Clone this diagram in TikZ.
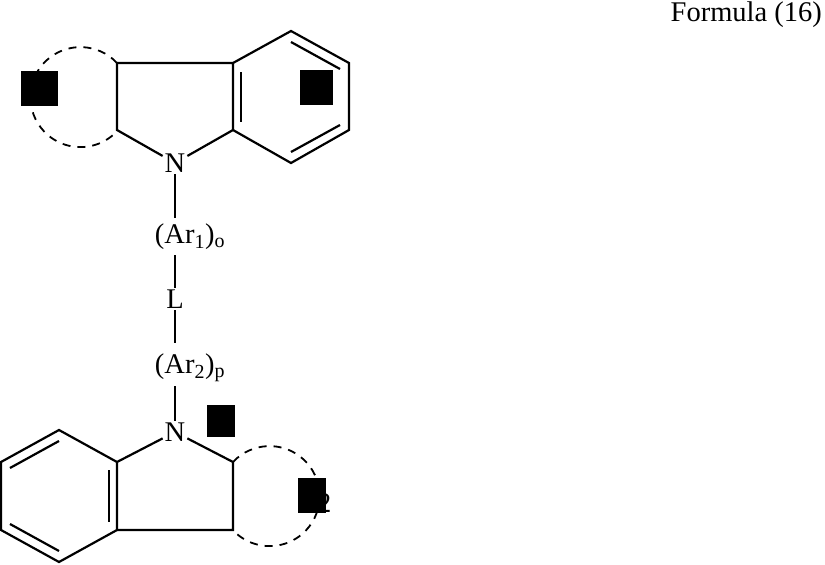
\documentclass[tikz,border=0pt]{standalone}
\usepackage{fontspec}
\setmainfont{Liberation Serif}
\begin{document}
\begin{tikzpicture}[x=1pt,y=-1pt,line width=2.2pt,
  lbl/.style={font=\fontsize{28.5}{32}\selectfont,inner sep=1pt},
  blk/.style={fill=black,draw=none},
  dsh/.style={dashed,dash pattern=on 8pt off 7pt,line width=1.8pt}]
\useasboundingbox (0,0) rectangle (825,565);
\node[lbl,anchor=north east] (title) at (824,0) {Formula (16)};
% top indoline
\node[lbl] (n1) at (175,163) {N};
\draw (117,63) -- (233,63) -- (291,31) -- (349,63) -- (349,130) -- (291,163) -- (233,130) -- (233,63);
\draw (117,63) -- (117,130) -- (n1) -- (233,130);
\draw (241,72) -- (241,122);
\draw (291,42) -- (340,69);
\draw (291,152) -- (340,125);
\draw[dsh] (117,63) arc[start angle=-43,end angle=-317,radius=50];
\node[blk,minimum width=37,minimum height=35] (s1) at (39.5,88.5) {};
\node[blk,minimum width=33,minimum height=35] (s2) at (316.5,87.5) {};
% chain
\node[lbl] (ar1) at (190,237) {(Ar\textsubscript{1})\textsubscript{o}};
\node[lbl] (L) at (175,299) {L};
\node[lbl] (ar2) at (190,368) {(Ar\textsubscript{2})\textsubscript{p}};
\node[lbl] (n2) at (175,432) {N};
\draw (n1) -- (175,218);
\draw (175,255) -- (L);
\draw (L) -- (175,343);
\draw (175,386) -- (n2);
% bottom indoline
\draw (117,462) -- (59,430) -- (1,462) -- (1,530) -- (59,562) -- (117,530) -- (117,462);
\draw (n2) -- (117,462);
\draw (n2) -- (233,462) -- (233,530) -- (117,530);
\draw (109,470) -- (109,522);
\draw (10,468) -- (59,441);
\draw (10,524) -- (59,551);
\draw[dsh] (233,462) arc[start angle=-137,end angle=137,radius=50];
\node[blk,minimum width=28,minimum height=32] (s3) at (221,421) {};
\node[lbl,anchor=west] (two) at (315,503) {2};
\node[blk,minimum width=28,minimum height=35] (s4) at (312,495.5) {};
\end{tikzpicture}
\end{document}
